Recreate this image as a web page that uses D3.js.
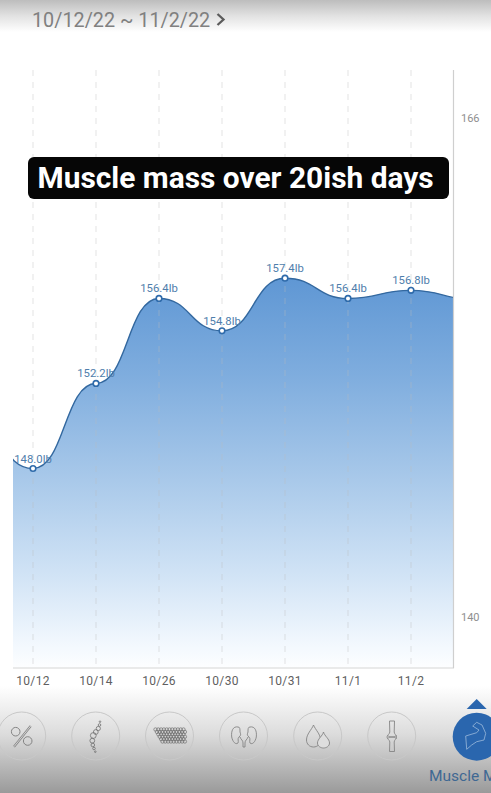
<!DOCTYPE html>
<html><head><meta charset="utf-8">
<script src="https://cdnjs.cloudflare.com/ajax/libs/d3/7.8.5/d3.min.js"></script>
<style>html,body{margin:0;padding:0;background:#fff;overflow:hidden}svg{display:block;font-family:Roboto,sans-serif}</style>
</head><body><svg id="c" width="491" height="793"></svg>
<script>
const categories=["10/12","10/14","10/26","10/30","10/31","11/1","11/2"];
const values=[148.0,152.2,156.4,154.8,157.4,156.4,156.8];
const valueLabels=["148.0lb","152.2lb","156.4lb","154.8lb","157.4lb","156.4lb","156.8lb"];
// readings continuing just past the cropped edges of the plot
const beforeValue=150.4;
const afterValue=156.35;
const axisTicks=[140,166];
const dateRange="10/12/22 ~ 11/2/22";
const title="Muscle mass over 20ish days";
const navLabel="Muscle M";

const svg=d3.select("#c");
const defs=svg.append("defs");
const W=491,H=793,L=13,R=453.5,T=70,B=668;

function grad(id,stops){
  const g=defs.append("linearGradient").attr("id",id).attr("x1",0).attr("y1",0).attr("x2",0).attr("y2",1);
  stops.forEach(s=>g.append("stop").attr("offset",s[0]).attr("stop-color",s[1]));
}
grad("area",[[0,"#5f97d4"],[.25,"#7fadde"],[.5,"#a6c7e9"],[.75,"#cfe2f5"],[.95,"#f4f9fe"],[1,"#fdfeff"]]);
grad("top",[[0,"#bdbdbd"],[.5,"#e2e2e2"],[1,"#ffffff"]]);
grad("bot",[[0,"#ffffff"],[.45,"#dcdcdc"],[1,"#9a9a9a"]]);
defs.append("clipPath").attr("id","plot").append("rect").attr("x",L).attr("y",T).attr("width",R-L).attr("height",B-T);

const x=d3.scaleLinear().domain([0,6]).range([33,411]);
const y=d3.scaleLinear().domain([148,157.4]).range([468.5,278.2]);
const yAxisScale=d3.scaleLinear().domain([140,166]).range([617,118]);

svg.append("rect").attr("width",W).attr("height",32).attr("fill","url(#top)");
svg.append("rect").attr("y",686).attr("width",W).attr("height",107).attr("fill","url(#bot)");

const series=[beforeValue,...values,afterValue].map((v,i)=>({i:i-1,v}));
const curve=d3.curveBumpX;
const g=svg.append("g");
g.append("path").attr("clip-path","url(#plot)").datum(series)
 .attr("d",d3.area().x(d=>x(d.i)).y0(B).y1(d=>y(d.v)).curve(curve)).attr("fill","url(#area)");

// grid
categories.forEach((c,i)=>{
  g.append("line").attr("x1",x(i)).attr("x2",x(i)).attr("y1",T).attr("y2",B)
   .attr("stroke","#bdbdbd").attr("stroke-opacity",.42).attr("stroke-width",1).attr("stroke-dasharray","6 6");
});
g.append("path").attr("clip-path","url(#plot)").datum(series)
 .attr("d",d3.line().x(d=>x(d.i)).y(d=>y(d.v)).curve(curve)).attr("fill","none").attr("stroke","#33689f").attr("stroke-width",1.4);

g.append("line").attr("x1",L).attr("x2",R+.5).attr("y1",B).attr("y2",B).attr("stroke","#d6d6d6").attr("stroke-width",1.2);
g.append("line").attr("x1",R).attr("x2",R).attr("y1",T).attr("y2",B).attr("stroke","#cfcfcf").attr("stroke-width",1.2);

// value labels then points
values.forEach((v,i)=>{
  g.append("text").attr("x",x(i)).attr("y",y(v)-6).attr("text-anchor","middle").attr("font-size",11.3)
   .attr("fill","#4f7eac").text(valueLabels[i]);
});
values.forEach((v,i)=>{
  g.append("circle").attr("cx",x(i)).attr("cy",y(v)).attr("r",2.8).attr("fill","#fff").attr("stroke","#2f6bab").attr("stroke-width",1.6);
});

// axes text
axisTicks.forEach(t=>{
  g.append("text").attr("x",461).attr("y",yAxisScale(t)+4).attr("font-size",11).attr("fill","#8f8f8f").text(t);
});
categories.forEach((c,i)=>{
  g.append("text").attr("x",x(i)).attr("y",685).attr("text-anchor","middle").attr("font-size",12).attr("letter-spacing",.35)
   .attr("fill","#5f5f5f").text(c);
});

// header
svg.append("text").attr("x",32).attr("y",27).attr("font-size",19.8).attr("fill","#808080").text(dateRange);
svg.append("path").attr("d","M217.5 14l6 5.500-6 5.500").attr("fill","none").attr("stroke","#5c5c5c").attr("stroke-width",2.3);

// caption
svg.append("rect").attr("x",28).attr("y",157).attr("width",421).attr("height",42).attr("rx",6).attr("fill","#060606");
svg.append("text").attr("x",37.5).attr("y",188).attr("font-size",29.9).attr("font-weight",700).attr("fill","#fff").text(title);

// nav icons
const nav=svg.append("g");
const cx=[21.7,95.7,169.5,243.5,317.7,391.7];
cx.forEach(c=>nav.append("circle").attr("cx",c).attr("cy",736).attr("r",24).attr("fill","none").attr("stroke","#c8c8c8").attr("stroke-width",1));
const ic="#858585";
// percent
nav.append("path").attr("d","M14 746.700L30.700 726").attr("stroke",ic).attr("stroke-width",2.2).attr("fill","none");
nav.append("path").attr("d","M14 746.700L30.700 726").attr("stroke","#e6e6e6").attr("stroke-width",.8).attr("fill","none");
nav.append("circle").attr("cx",15.7).attr("cy",731.7).attr("r",4.3).attr("fill","none").attr("stroke",ic).attr("stroke-width",1);
nav.append("circle").attr("cx",27.7).attr("cy",741).attr("r",4.3).attr("fill","none").attr("stroke",ic).attr("stroke-width",1);
// spine
[[100,721.7,.8],[99.5,725,1.3],[98.300,728.500,2.1],[95.8,732,2.4],[93.3,735.500,2.9],[92.3,740.7,2.4],[92.8,745,1.8],[94,748.5,1.3],[95.3,751.7,.8]].forEach(p=>
  nav.append("circle").attr("cx",p[0]).attr("cy",p[1]).attr("r",p[2]).attr("fill","none").attr("stroke","#707070").attr("stroke-width",.8));
// tissue
const tissue=nav.append("g").attr("fill","none").attr("stroke","#707070").attr("stroke-width",.7);
d3.range(6).forEach(r=>d3.range(11).forEach(k=>{
  const px=155.5+k*2.8+(r%2)*1.4;
  const left=155+r*1;
  if(px>=left&&px<=185) tissue.append("circle").attr("cx",px).attr("cy",729.500+r*2.4).attr("r",1.7);
}));
// kidneys
nav.append("path").attr("d","M238 727c-5-1-7 4-6.300 10 1 5 4 8 6.300 6 1-2-1-4 1-6 2-2 2-2 1-5 0-3 0-5-2-5zM250 727c5-1 7 4 6.300 10-1 5-4 8-6.300 6-1-2 1-4-1-6-2-2-2-2-1-5 0-3 0-5 2-5zM240 737c1 3 3 3 3 6v4M248 737c-1 3-3 3-3 6v4M243 747h2").attr("fill","none").attr("stroke",ic).attr("stroke-width",.9);
// drops
nav.append("path").attr("d","M313.500 725c-2 5-7 9-7 15 0 4 3 7 7 7 4 0 7-3 7-7 0-6-5-10-7-15z").attr("fill","none").attr("stroke",ic).attr("stroke-width",.9);
nav.append("path").attr("d","M323.500 732c-1 4-6 7-6 11 0 3 3 5 6 5s6-2 6-5c0-4-5-7-6-11z").attr("fill","#dedede").attr("stroke",ic).attr("stroke-width",.9);
// joint
nav.append("path").attr("d","M389.500 721h5l-.3 11c0 2 2.300 3 2.300 5s-2.300 3-2.300 5l.3 9.500h-5l.3-9.500c0-2-2.800-3-2.800-5s2.800-3 2.800-5z M387.500 735.500c3 2 6 2 9 0M387.500 738.500c3-2 6-2 9 0").attr("fill","none").attr("stroke",ic).attr("stroke-width",.9);
// active
nav.append("path").attr("d","M476.700 699l10 10h-20z").attr("fill","#2a66ae");
nav.append("circle").attr("cx",476.7).attr("cy",736.7).attr("r",24).attr("fill","#2a66ae");
nav.append("path").attr("d","M466.700 749.300L465.700 736L476.700 732.700L479 730L472.700 726L476.700 722.300L482 725L485.700 733.300L484 740L476.700 741.700L471.700 745Z").attr("fill","none").attr("stroke","#8fb0d6").attr("stroke-width",.9).attr("stroke-linejoin","round");
svg.append("text").attr("x",429).attr("y",781).attr("font-size",15.5).attr("fill","#3f6893").text(navLabel);
</script></body></html>
